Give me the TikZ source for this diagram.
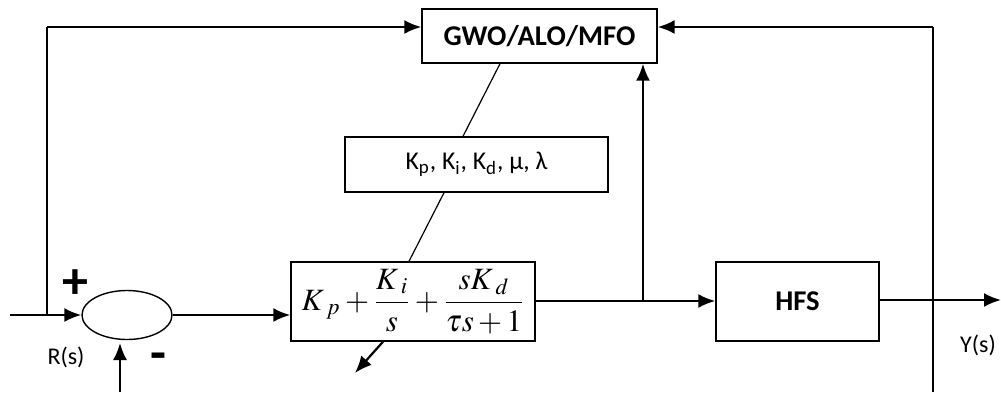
\documentclass[tikz,border=0pt]{standalone}
\usepackage{mathptmx}
\usepackage[no-math]{fontspec}
\setmainfont{Carlito}
\usetikzlibrary{arrows.meta,calc,shapes.geometric}

\begin{document}
\begin{tikzpicture}[
x=0.5pt,y=-0.5pt,
blk/.style={draw,line width=0.7pt,inner sep=0pt},
sig/.style={line width=1.1pt,-{Latex[length=8.5pt,width=7pt]}},
wire/.style={line width=0.6pt}
]
\useasboundingbox (0,0) rectangle (1001,392);

% blocks
\node[blk,ellipse,minimum width=45pt,minimum height=24.5pt] (sum) at (127,315) {};
\node[blk,minimum width=122pt,minimum height=39.5pt] (pid) at (413,301.5)
  {\fontsize{15.5}{18}\selectfont$\displaystyle K_{\;p}+\frac{K_{\;i}}{s}+\frac{sK_{\;d}}{\tau s+1}$};
\node[blk,minimum width=117.5pt,minimum height=27pt] (gwo) at (539.5,36)
  {\fontsize{14.3}{17}\selectfont\bfseries GWO/ALO/MFO};
\node[blk,minimum width=131.5pt,minimum height=27.5pt] (par) at (476.5,164.5)
  {\fontsize{12.8}{15}\selectfont K\textsubscript{p}, K\textsubscript{i}, K\textsubscript{d}, μ, λ};
\node[blk,minimum width=81.5pt,minimum height=39.5pt] (hfs) at (797.5,301.5)
  {\fontsize{14.3}{17}\selectfont\bfseries HFS};

% labels
\node (plus) at (75,284) {\fontsize{26}{26}\selectfont\bfseries +};
\node (minus) at (158,362) {\fontsize{26}{26}\selectfont\bfseries -};
\node (rs) at (66,357) {\fontsize{12}{14}\selectfont R(s)};
\node (ys) at (978,345) {\fontsize{12}{14}\selectfont Y(s)};

% points
\coordinate (in) at (10,315);
\coordinate (tl) at (47,27);
\coordinate (mi) at (120,392);
\coordinate (br) at (643,301);
\coordinate (fb) at (933,392);
\coordinate (out) at (1001,300);
\coordinate (tune) at (355,373);

% signals
\draw[sig] (in) -- (sum.west);
\draw[wire] (tl |- in) -- (tl);
\draw[sig] (tl) -- (tl -| gwo.west);
\draw[sig] (mi) -- (120,343);
\draw[sig] (sum.east) -- (sum.east -| pid.west);
\draw[sig] (pid.east |- br) -- (br -| hfs.west);
\draw[sig] (br) -- (br |- gwo.south);
\draw[sig] (hfs.east |- out) -- (out);
\draw[wire] (fb) -- (fb |- tl);
\draw[sig] (fb |- tl) -- (tl -| gwo.east);

% tuning line
\draw[wire] ($(gwo.south)+(-39.5,0)$) -- ($(par.north)+(-13.5,0)$);
\draw[wire] ($(par.south)+(-32.5,0)$) -- ($(pid.north)+(-4,0)$);
\draw[sig] ($(pid.south)+(-30,0)$) -- (tune);
\end{tikzpicture}
\end{document}
